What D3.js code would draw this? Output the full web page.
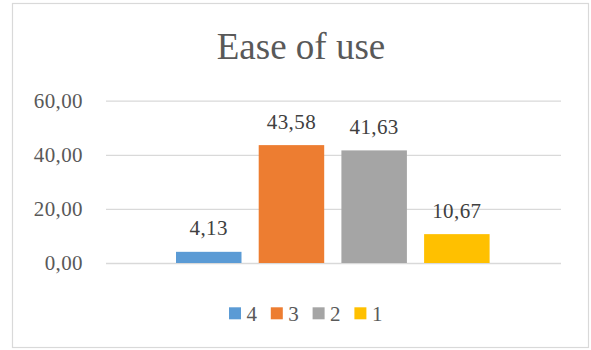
<!DOCTYPE html>
<html>
<head>
<meta charset="utf-8">
<script src="https://cdn.jsdelivr.net/npm/d3@7"></script>
<style>
  html, body { margin: 0; padding: 0; background: #fff; }
  svg { display: block; }
</style>
</head>
<body>
<svg id="chart" width="591" height="350"></svg>
<script>
const title = "Ease of use";
const series = ["4", "3", "2", "1"];
const values = [4.13, 43.58, 41.63, 10.67];
const colors = ["#5B9BD5", "#ED7D31", "#A5A5A5", "#FFC000"];
const yTicks = [0, 20, 40, 60];

const fmt = v => v.toFixed(2).replace(".", ",");

// pick the first installed serif face (Times-like preferred)
function hasFont(name) {
  const c = document.createElement("canvas").getContext("2d");
  const s = "Ease of use 0123456789,mmmwwwiiil";
  return ["monospace", "sans-serif", "cursive"].some(base => {
    c.font = `40px ${base}`;
    const w0 = c.measureText(s).width;
    c.font = `40px '${name}', ${base}`;
    return c.measureText(s).width !== w0;
  });
}
const candidates = ["Liberation Serif", "Tinos", "Times New Roman", "Times", "Nimbus Roman",
  "Nimbus Roman No9 L", "FreeSerif", "DejaVu Serif", "Noto Serif", "Noto Serif CJK SC",
  "Source Serif Pro", "Georgia"];
const found = candidates.find(hasFont);
const FONT = found ? `'${found}', serif` : "serif";

const svg = d3.select("#chart");

// chart border
svg.append("rect")
  .attr("x", 12.5).attr("y", 3.5)
  .attr("width", 576).attr("height", 344)
  .attr("fill", "#fff")
  .attr("stroke", "#d9d9d9")
  .attr("stroke-width", 1.2);

const plot = { left: 106, right: 561, top: 100.7, bottom: 263 };

const y = d3.scaleLinear().domain([0, 60]).range([plot.bottom, plot.top]);
const x = d3.scaleBand().domain(series)
  .range([167.4, 498.2]).paddingInner(0.208).paddingOuter(0.104);

// title
svg.append("text")
  .attr("x", 301).attr("y", 59.3)
  .attr("text-anchor", "middle")
  .attr("fill", "#595959")
  .style("font-family", FONT)
  .style("font-size", "37px")
  .text(title);

// y axis (gridlines + labels)
const yAxis = d3.axisLeft(y)
  .tickValues(yTicks)
  .tickSize(-(plot.right - plot.left))
  .tickPadding(23)
  .tickFormat(fmt);

const gy = svg.append("g")
  .attr("transform", `translate(${plot.left},0)`)
  .call(yAxis)
  .attr("font-family", null)
  .attr("font-size", null);
gy.select(".domain").remove();
gy.selectAll(".tick line").attr("stroke", "#d9d9d9").attr("stroke-width", 1.3);
gy.selectAll(".tick text")
  .attr("fill", "#595959")
  .style("font-family", FONT)
  .style("font-size", "21px")
  .style("letter-spacing", "0.4px");

// bars
svg.append("g").selectAll("rect")
  .data(series)
  .join("rect")
  .attr("x", d => x(d))
  .attr("y", (d, i) => y(values[i]))
  .attr("width", x.bandwidth())
  .attr("height", (d, i) => y(0) - y(values[i]))
  .attr("fill", (d, i) => colors[i]);

// data labels
svg.append("g").selectAll("text")
  .data(series)
  .join("text")
  .attr("x", d => x(d) + x.bandwidth() / 2)
  .attr("y", (d, i) => y(values[i]) - 16.5)
  .attr("text-anchor", "middle")
  .attr("fill", "#404040")
  .style("font-family", FONT)
  .style("font-size", "21px")
  .style("letter-spacing", "0.4px")
  .text((d, i) => fmt(values[i]));

// legend
const legendX = d3.scaleBand().domain(series).range([229, 396.2]);
const lg = svg.append("g").selectAll("g")
  .data(series)
  .join("g")
  .attr("transform", d => `translate(${legendX(d)},307.3)`);
lg.append("rect")
  .attr("width", 12).attr("height", 12)
  .attr("fill", (d, i) => colors[i]);
lg.append("text")
  .attr("x", 17.5).attr("y", 13.7)
  .attr("fill", "#595959")
  .style("font-family", FONT)
  .style("font-size", "21px")
  .text(d => d);
</script>
</body>
</html>
